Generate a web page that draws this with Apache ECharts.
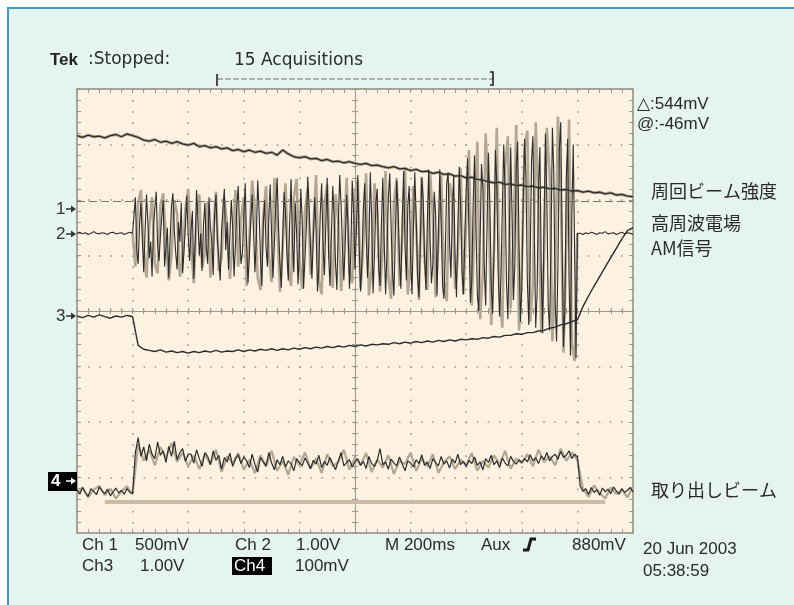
<!DOCTYPE html>
<html>
<head>
<meta charset="utf-8">
<title>Tek scope</title>
<script src="https://cdn.jsdelivr.net/npm/echarts@6.0.0/dist/echarts.min.js"></script>
<style>
  html, body { margin: 0; padding: 0; background: #fff; overflow: hidden; }
  #main { width: 794px; height: 605px; }
</style>
</head>
<body>
<div id="main"></div>
<script>
// x in graticule divisions (-5..5, 200ms/div), y in divisions (-4..4)

// 周回ビーム強度 (Ch1), sampled every 0.1 div from -5
var ch1 = [
  3.16, 3.13, 3.17, 3.14, 3.15, 3.12, 3.16, 3.18, 3.14, 3.19,
  3.16, 3.13, 3.08, 3.06, 3.09, 3.04, 3.06, 3.02, 3.05, 3.01,
  2.99, 3.02, 2.96, 2.98, 2.94, 2.96, 2.92, 2.94, 2.89, 2.91,
  2.87, 2.90, 2.86, 2.88, 2.84, 2.86, 2.81, 2.90, 2.83, 2.78,
  2.76, 2.78, 2.74, 2.75, 2.71, 2.73, 2.69, 2.70, 2.67, 2.69,
  2.66, 2.64, 2.66, 2.62, 2.63, 2.60, 2.58, 2.60, 2.56, 2.57,
  2.53, 2.55, 2.51, 2.52, 2.48, 2.50, 2.46, 2.47, 2.43, 2.44,
  2.40, 2.41, 2.37, 2.36, 2.33, 2.31, 2.32, 2.28, 2.29, 2.26,
  2.27, 2.24, 2.25, 2.22, 2.23, 2.20, 2.21, 2.18, 2.19, 2.16,
  2.17, 2.14, 2.16, 2.13, 2.14, 2.11, 2.13, 2.09, 2.10, 2.07,
  2.06
];

// 高周波電場 AM信号 (Ch2): flat before the burst, every 0.05 div from -5
var ch2Before = [
  1.40, 1.42, 1.39, 1.41, 1.38, 1.40, 1.43, 1.40, 1.39, 1.41,
  1.40, 1.38, 1.41, 1.42, 1.39, 1.40, 1.41, 1.38, 1.40, 1.42, 1.40
];
// the burst, every 0.025 div from -3.975
var ch2Burst = [
  1.40, 2.05, 1.10, 0.85, 1.55, 1.95, 1.30, 0.70, 1.45, 2.10, 1.60, 0.95, 1.25, 0.62, 1.50, 1.85, 2.15, 1.20, 0.90, 1.35,
  1.70, 2.00, 0.80, 1.15, 1.50, 0.60, 1.30, 1.90, 2.12, 1.45, 1.05, 0.75, 1.60, 1.25, 1.95, 0.68, 1.10, 1.55, 2.08, 1.35,
  0.90, 1.45, 1.80, 0.58, 1.20, 2.18, 1.65, 1.00, 1.40, 0.72, 1.55, 1.95, 1.15, 0.85, 2.05, 1.50, 1.25, 0.65, 1.75, 2.10,
  1.30, 0.95, 0.55, 1.45, 1.85, 2.20, 1.10, 1.60, 0.75, 1.35, 2.00, 1.50, 0.62, 1.20, 1.90, 2.25, 1.40, 0.85, 1.05, 1.70,
  2.30, 1.25, 0.50, 1.00, 1.65, 2.10, 1.45, 0.70, 1.30, 2.35, 1.80, 0.95, 0.45, 1.55, 2.00, 1.15, 0.80, 1.70, 2.28, 1.35,
  0.60, 1.20, 1.90, 2.40, 1.50, 0.85, 0.42, 1.35, 2.15, 1.75, 1.05, 0.55, 1.60, 2.38, 1.25, 0.70, 1.95, 1.40, 0.48, 1.10,
  2.20, 1.65, 0.40, 0.95, 1.50, 2.42, 1.85, 1.15, 0.58, 1.30, 2.05, 1.45, 0.35, 0.80, 1.75, 2.30, 1.20, 0.65, 1.55, 2.40,
  1.00, 0.45, 1.35, 2.25, 1.70, 0.85, 0.38, 1.60, 2.45, 1.90, 1.10, 0.55, 1.25, 2.10, 1.50, 0.40, 1.05, 2.35, 1.80, 0.75,
  1.45, 2.45, 1.15, 0.35, 0.90, 1.85, 2.30, 1.40, 0.60, 1.20, 2.50, 1.65, 0.32, 1.00, 1.95, 2.20, 0.80, 0.45, 1.55, 2.40,
  1.25, 0.30, 1.05, 2.05, 2.48, 1.50, 0.70, 0.28, 1.35, 2.35, 1.80, 0.90, 0.40, 1.65, 2.52, 1.15, 0.55, 1.90, 2.25, 0.95,
  0.30, 1.45, 2.50, 1.70, 0.65, 0.25, 1.20, 2.40, 2.05, 1.00, 0.38, 1.55, 2.55, 1.30, 0.50, 0.85, 2.15, 1.75, 0.28, 1.40,
  2.55, 1.60, 0.45, 0.22, 1.10, 2.30, 2.50, 1.25, 0.60, 1.80, 2.45, 0.95, 0.25, 1.50, 2.60, 1.85, 0.70, 0.30, 1.35, 2.20,
  2.75, 1.40, 0.15, 0.55, 1.90, 2.80, 1.60, 0.30, 0.00, 1.25, 2.65, 2.20, 0.80, 0.10, 1.55, 2.85, 1.95, 0.45, -0.05, 1.10,
  2.90, 2.30, 0.70, -0.10, 0.60, 1.85, 3.00, 2.15, 0.50, -0.15, 1.30, 2.95, 1.70, 0.20, 0.85, 2.60, 3.05, 1.20, -0.20, 0.40,
  1.95, 3.10, 2.40, 0.55, -0.25, 0.90, 2.70, 3.15, 1.45, -0.30, 0.30, 2.20, 2.95, 0.75, -0.40, 1.60, 3.20, 2.05, 0.10, -0.35,
  1.20, 3.30, 2.50, 0.20, -0.55, 0.80, 2.90, 3.40, 1.30, -0.65, 0.05, 2.40, 3.10, 0.60, -0.80, 1.70, 3.00, 1.10, -0.85, 1.40
];
// flat after the burst, every 0.05 div from 4.05
var ch2After = [
  1.40, 1.38, 1.41, 1.39, 1.42, 1.40, 1.38, 1.41, 1.40, 1.43,
  1.39, 1.40, 1.41, 1.38, 1.40, 1.42, 1.39, 1.41, 1.40, 1.38
];

// Ch2 earlier acquisitions (persistence), every 0.05 div from -4
var ch2Persist = [
  1.40,
  0.80, 1.95, 2.18, 1.10, 0.60, 1.50, 2.05, 0.85, 0.68, 1.90,
  2.12, 1.30, 0.55, 1.00, 2.00, 1.75, 0.62, 0.90, 1.85, 2.20,
  1.20, 0.50, 1.70, 2.10, 0.78, 1.05, 1.98, 0.60, 1.40, 2.15,
  0.72, 0.95, 2.02, 1.55, 0.58, 1.25, 2.18, 0.80, 1.65, 2.05,
  0.45, 1.30, 2.35, 1.85, 0.60, 0.38, 1.70, 2.25, 1.00, 0.52,
  2.40, 1.60, 0.35, 1.15, 2.30, 0.75, 0.45, 2.05, 2.38, 0.90,
  0.40, 1.80, 2.20, 0.65, 1.45, 2.45, 0.55, 0.30, 1.95, 2.28,
  1.05, 0.42, 2.10, 1.65, 0.36, 1.25, 2.40, 0.70, 0.50, 2.15,
  2.35, 0.40, 1.20, 2.48, 0.28, 0.75, 2.30, 1.80, 0.35, 1.10,
  2.52, 0.60, 0.22, 1.95, 2.40, 0.45, 1.35, 2.55, 0.30, 0.85,
  2.25, 1.55, 0.20, 2.42, 0.95, 0.38, 2.50, 1.70, 0.25, 1.25,
  2.45, 0.55, 0.18, 2.30, 2.05, 0.40, 1.00, 2.58, 0.30, 1.60,
  2.90, 0.10, 1.50, 3.05, -0.15, 0.70, 3.20, 2.10, -0.25, 1.10,
  3.30, 0.35, -0.30, 2.60, 3.15, 0.05, 1.30, 3.35, -0.35, 0.80,
  2.95, 3.25, -0.20, 0.45, 3.40, 1.90, -0.40, 0.90, 3.30, 2.50,
  -0.55, 0.60, 3.50, 2.20, -0.75, 1.20, 3.45, -0.60, -0.90, 1.40
];

// Ch3, every 0.1 div from -5
var ch3 = [
  -0.09, -0.12, -0.08, -0.11, -0.07, -0.10, -0.13, -0.09, -0.11, -0.08,
  -0.10, -0.62, -0.69, -0.71, -0.73, -0.70, -0.74, -0.72, -0.75, -0.73,
  -0.76, -0.73, -0.75, -0.72, -0.74, -0.71, -0.74, -0.72, -0.73, -0.70,
  -0.73, -0.70, -0.72, -0.69, -0.71, -0.68, -0.71, -0.68, -0.70, -0.67,
  -0.69, -0.66, -0.68, -0.65, -0.67, -0.64, -0.66, -0.63, -0.65, -0.62,
  -0.64, -0.61, -0.63, -0.60, -0.61, -0.59, -0.60, -0.57, -0.59, -0.56,
  -0.58, -0.55, -0.57, -0.54, -0.56, -0.53, -0.55, -0.52, -0.54, -0.51,
  -0.52, -0.50, -0.51, -0.48, -0.49, -0.46, -0.47, -0.44, -0.44, -0.41,
  -0.42, -0.39, -0.39, -0.36, -0.35, -0.31, -0.29, -0.25, -0.23, -0.19,
  -0.16, 0.08, 0.27, 0.45, 0.62, 0.79, 0.96, 1.13, 1.30, 1.45,
  1.50
];

// 取り出しビーム (Ch4), every 0.05 div from -5
var ch4 = [
  -3.22, -3.30, -3.18, -3.27, -3.34, -3.20, -3.25, -3.31, -3.17, -3.24,
  -3.29, -3.21, -3.33, -3.26, -3.19, -3.28, -3.23, -3.30, -3.20, -3.27, -3.29,
  -2.55, -2.28, -2.62, -2.45, -2.70, -2.40, -2.58, -2.66, -2.36, -2.60,
  -2.52, -2.73, -2.44, -2.62, -2.35, -2.68, -2.55, -2.48, -2.71, -2.58,
  -2.58, -2.74, -2.50, -2.66, -2.80, -2.55, -2.62, -2.77, -2.52, -2.69,
  -2.60, -2.85, -2.64, -2.72, -2.56, -2.80, -2.67, -2.59, -2.75, -2.63,
  -2.70, -2.82, -2.58, -2.76, -2.90, -2.64, -2.72, -2.79, -2.55, -2.74,
  -2.86, -2.68, -2.77, -2.62, -2.81, -2.70, -2.75, -2.88, -2.66, -2.73,
  -2.79, -2.65, -2.74, -2.84, -2.69, -2.76, -2.60, -2.82, -2.71, -2.78,
  -2.64, -2.75, -2.86, -2.70, -2.55, -2.79, -2.73, -2.68, -2.81, -2.72,
  -2.66, -2.78, -2.71, -2.84, -2.62, -2.75, -2.80, -2.69, -2.48, -2.77,
  -2.72, -2.85, -2.67, -2.74, -2.79, -2.63, -2.76, -2.88, -2.70, -2.74,
  -2.81, -2.68, -2.75, -2.59, -2.78, -2.72, -2.84, -2.66, -2.73, -2.79,
  -2.62, -2.76, -2.70, -2.83, -2.67, -2.74, -2.58, -2.77, -2.71, -2.80,
  -2.69, -2.75, -2.63, -2.78, -2.72, -2.86, -2.66, -2.73, -2.60, -2.77,
  -2.70, -2.82, -2.65, -2.74, -2.79, -2.62, -2.71, -2.76, -2.68, -2.73,
  -2.66, -2.72, -2.59, -2.70, -2.64, -2.75, -2.61, -2.68, -2.55, -2.70,
  -2.62, -2.58, -2.67, -2.53, -2.64, -2.60, -2.52, -2.66, -2.58, -2.63,
  -3.15, -3.25, -3.20, -3.30, -3.18, -3.27, -3.22, -3.32, -3.19, -3.26,
  -3.21, -3.29, -3.17, -3.24, -3.30, -3.20, -3.27, -3.23, -3.18, -3.26
];

// Ch4 earlier acquisitions, every 0.1 div from -5
var ch4Persist = [
  -3.30, -3.18, -3.36, -3.22, -3.15, -3.32, -3.20, -3.38, -3.25, -3.16, -3.30,
  -2.40, -2.70, -2.50, -2.78, -2.45, -2.65, -2.38, -2.72, -2.55, -2.80,
  -2.60, -2.85, -2.58, -2.76, -2.50, -2.90, -2.62, -2.74, -2.56, -2.86,
  -2.68, -2.92, -2.60, -2.80, -2.52, -2.88, -2.70, -2.95, -2.63, -2.78,
  -2.55, -2.84, -2.66, -2.92, -2.58, -2.80, -2.72, -2.50, -2.86, -2.64,
  -2.78, -2.56, -2.90, -2.68, -2.82, -2.60, -2.94, -2.70, -2.76, -2.55,
  -2.88, -2.66, -2.80, -2.58, -2.92, -2.72, -2.62, -2.85, -2.68, -2.78,
  -2.56, -2.88, -2.70, -2.82, -2.60, -2.76, -2.52, -2.84, -2.66, -2.74,
  -2.58, -2.80, -2.50, -2.72, -2.62, -2.78, -2.48, -2.70, -2.55, -2.68,
  -3.20, -3.35, -3.14, -3.28, -3.38, -3.18, -3.30, -3.22, -3.36, -3.16
];

// tan bar under Ch4 and the cursor level
var barX = [-4.5, 4.5];
var barY = -3.44;
var cursorY = 1.98;

function track(start, step, values) {
  return values.map(function (v, i) {
    return [+(start + i * step).toFixed(3), v];
  });
}

var chart = echarts.init(document.getElementById('main'));

var gridColor = '#9d978c';
var dots = [1.6, 9.5];
var txt = '#2a2a2a';
var font = '"Liberation Sans", "DejaVu Sans", sans-serif';
var wide = '"DejaVu Sans", sans-serif';
var jp = '"Noto Sans CJK JP", sans-serif';

function edgeAxis(pos, split) {
  var vertical = pos === 'left' || pos === 'right';
  return {
    type: 'value', min: vertical ? -4 : -5, max: vertical ? 4 : 5, interval: 1,
    position: pos,
    axisLine: { show: false, onZero: false },
    axisTick: { show: true, inside: true, length: 4, lineStyle: { color: gridColor } },
    minorTick: { show: true, splitNumber: 5, length: 4, lineStyle: { color: gridColor } },
    axisLabel: { show: false },
    splitLine: { show: split, lineStyle: { color: gridColor, type: dots, width: 1.5 } }
  };
}

function centerAxis(vertical, inside) {
  return {
    type: 'value', min: vertical ? -4 : -5, max: vertical ? 4 : 5, interval: 1,
    position: vertical ? 'left' : 'bottom',
    axisLine: { show: true, onZero: true, onZeroAxisIndex: 0, lineStyle: { color: gridColor, width: 1 } },
    axisTick: { show: true, inside: inside, length: 3, lineStyle: { color: gridColor } },
    minorTick: { show: true, splitNumber: 5, length: 3, lineStyle: { color: gridColor } },
    axisLabel: { show: false },
    splitLine: { show: false }
  };
}

function label(x, y, text, extra) {
  var style = { text: text, x: 0, y: 0, fill: txt, font: '17px ' + font, verticalAlign: 'middle' };
  for (var k in extra) style[k] = extra[k];
  return { type: 'text', x: x, y: y, z: 100, silent: true, style: style };
}

function marker(y, text, inverse) {
  var c = inverse ? '#fff' : '#333';
  var els = [];
  if (inverse) {
    els.push({ type: 'rect', z: 99, silent: true, shape: { x: 48, y: y - 9, width: 29, height: 19 }, style: { fill: '#000' } });
  }
  els.push(label(inverse ? 51 : 56, y, text, { fill: c, font: (inverse ? 'bold ' : '') + '17px ' + font }));
  els.push({ type: 'line', z: 100, silent: true, shape: { x1: 66, y1: y, x2: 72, y2: y }, style: { stroke: c, lineWidth: 1.5 } });
  els.push({ type: 'polygon', z: 100, silent: true, shape: { points: [[71, y - 3.5], [76, y], [71, y + 3.5]] }, style: { fill: c } });
  return els;
}

var graphics = [
  { type: 'rect', z: -10, silent: true, shape: { x: 8, y: 8, width: 786, height: 597 },
    style: { fill: '#e5f4ee' } },
  { type: 'polyline', z: -9, silent: true, shape: { points: [[8, 605], [8, 8], [794, 8]] },
    style: { stroke: '#3f9ad0', lineWidth: 2, fill: null } },
  label(50, 60, 'Tek', { font: 'bold 17px ' + font, fill: '#222' }),
  label(88, 60, ':Stopped:', { font: '17px ' + wide }),
  label(234, 61, '15 Acquisitions', { font: '17px ' + wide }),
  { type: 'polyline', z: 100, silent: true, shape: { points: [[217, 79], [493, 79]] },
    style: { stroke: '#6f6a64', lineWidth: 1, lineDash: [6, 2] } },
  { type: 'polyline', z: 100, silent: true, shape: { points: [[217, 74], [217, 86]] }, style: { stroke: '#222', lineWidth: 1.6 } },
  { type: 'polyline', z: 100, silent: true, shape: { points: [[490, 72], [493, 72], [493, 85], [490, 85]] }, style: { stroke: '#222', lineWidth: 1.6, fill: null } },
  label(637, 104, '\u25B3:544mV', { font: '17px ' + font }),
  label(637, 124, '@:-46mV', { font: '17px ' + font }),
  label(651, 191, '周回ビーム強度', { font: '18px ' + jp }),
  label(651, 223, '高周波電場', { font: '18px ' + jp }),
  label(651, 248, 'AM信号', { font: '18px ' + jp }),
  label(651, 490, '取り出しビーム', { font: '18px ' + jp }),
  label(82, 545, 'Ch 1'),
  label(135, 545, '500mV'),
  label(235, 545, 'Ch 2'),
  label(296, 545, '1.00V'),
  label(385, 545, 'M 200ms'),
  label(481, 545, 'Aux'),
  { type: 'polyline', z: 100, silent: true, shape: { points: [[523, 550], [528, 550], [531, 539], [536, 539]] },
    style: { stroke: '#1a1a1a', lineWidth: 3, fill: null } },
  label(572, 545, '880mV'),
  label(82, 566, 'Ch3'),
  label(140, 566, '1.00V'),
  { type: 'rect', z: 99, silent: true, shape: { x: 232, y: 557, width: 40, height: 18 }, style: { fill: '#000' } },
  label(234, 566, 'Ch4', { fill: '#fff' }),
  label(295, 566, '100mV'),
  label(643, 549, '20 Jun 2003'),
  label(643, 571, '05:38:59')
].concat(marker(209, '1'), marker(234, '2'), marker(316, '3'), marker(481, '4', true));

var trace = '#2b2b2b';
var ghost = '#b3a794';

var ch2Data = track(-5, 0.05, ch2Before)
  .concat(track(-3.975, 0.025, ch2Burst))
  .concat(track(4.05, 0.05, ch2After));

var option = {
  backgroundColor: '#ffffff',
  animation: false,
  grid: {
    left: 77, top: 89, width: 556, height: 444,
    show: true, backgroundColor: '#fdf2e2', borderColor: '#8e8a82', borderWidth: 1.5,
    containLabel: false, outerBoundsMode: 'none'
  },
  xAxis: [edgeAxis('bottom', true), edgeAxis('top', false), centerAxis(false, true), centerAxis(false, false)],
  yAxis: [edgeAxis('left', true), edgeAxis('right', false), centerAxis(true, true), centerAxis(true, false)],
  graphic: { elements: graphics },
  series: [
    { name: 'bar', type: 'line', silent: true, symbol: 'none', z: 2,
      data: [[barX[0], barY], [barX[1], barY]],
      lineStyle: { color: '#cdbba7', width: 4 },
      markLine: { silent: true, symbol: 'none', label: { show: false },
        lineStyle: { color: '#77716a', type: [8, 4], width: 1.2 },
        data: [{ yAxis: cursorY }] } },
    { name: 'ch2 persist', type: 'line', silent: true, symbol: 'none', z: 3,
      data: track(-4, 0.05, ch2Persist), lineStyle: { color: ghost, width: 2.6 } },
    { name: 'ch2', type: 'line', silent: true, symbol: 'none', z: 4,
      data: ch2Data, lineStyle: { color: trace, width: 1.1 } },
    { name: 'ch1 ghost', type: 'line', silent: true, symbol: 'none', z: 3,
      data: track(-5, 0.1, ch1), lineStyle: { color: ghost, width: 3 } },
    { name: 'ch1', type: 'line', silent: true, symbol: 'none', z: 5,
      data: track(-5, 0.1, ch1), lineStyle: { color: trace, width: 1.3 } },
    { name: 'ch3', type: 'line', silent: true, symbol: 'none', z: 5,
      data: track(-5, 0.1, ch3), lineStyle: { color: trace, width: 1.4 } },
    { name: 'ch4 persist', type: 'line', silent: true, symbol: 'none', z: 3,
      data: track(-5, 0.1, ch4Persist), lineStyle: { color: ghost, width: 2.2 } },
    { name: 'ch4', type: 'line', silent: true, symbol: 'none', z: 5,
      data: track(-5, 0.05, ch4), lineStyle: { color: trace, width: 1.2 } }
  ]
};

chart.setOption(option);
</script>
</body>
</html>
